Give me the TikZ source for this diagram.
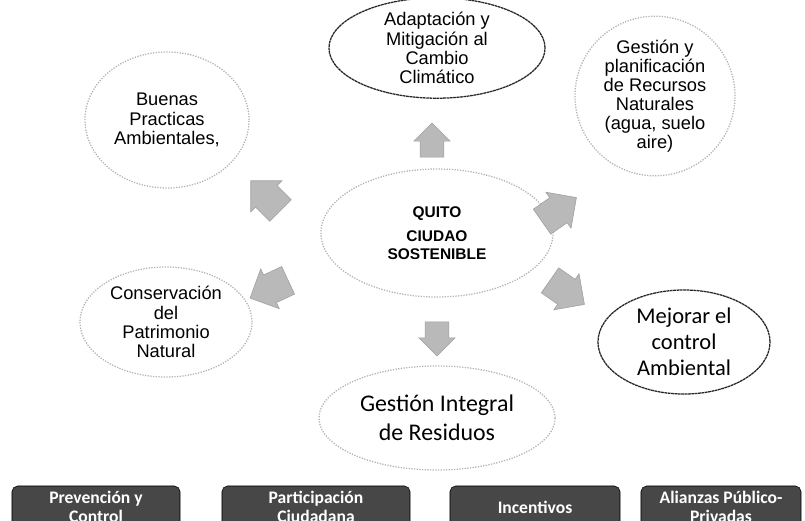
\documentclass[tikz,border=0pt]{standalone}
\usepackage{fontspec}
\setmainfont{Liberation Sans}
\newfontfamily\calibri{Carlito}
\usetikzlibrary{shapes.geometric,shapes.arrows}

\tikzset{
  bubble/.style={ellipse, draw=gray!60, densely dotted, line width=0.9pt,
    align=center, inner sep=0pt, font=\fontsize{13}{13.6}\selectfont},
  darkbubble/.style={bubble, draw=black!85, dash pattern=on 2pt off 0.4pt},
  blockarrow/.style={single arrow, fill=gray!55, draw=gray!75,
    single arrow head extend=0.15cm, minimum height=0.85cm,
    minimum width=0.9cm, inner xsep=0pt, inner ysep=0.28cm},
  bigarrow/.style={blockarrow, minimum height=1.05cm, minimum width=1.1cm,
    inner ysep=0.33cm},
  tagbox/.style={rounded corners=4pt, fill=black!72, draw=black, text=white,
    align=center, minimum height=1.05cm, inner sep=0pt,
    font=\calibri\bfseries\fontsize{12.5}{13.5}\selectfont}
}

\begin{document}
\begin{tikzpicture}[x=0.025cm,y=-0.025cm]
\clip (0,0) rectangle (805,521);

% centre
\node[bubble, minimum width=5.8cm, minimum height=3.2cm,
  font=\bfseries\fontsize{11}{12.2}\selectfont] (quito) at (437,233)
  {QUITO\\[5pt]CIUDAO\\SOSTENIBLE};

% themes around
\node[darkbubble, minimum width=5.4cm, minimum height=2.5cm] (adapta) at (437,48)
  {Adaptación y\\Mitigación al\\Cambio\\Climático};
\node[bubble, minimum width=4.1cm, minimum height=3.4cm] (buenas) at (167,120)
  {Buenas\\Practicas\\Ambientales,};
\node[bubble, minimum width=4.0cm, minimum height=3.4cm] (recursos) at (655,96)
  {Gestión y\\planificación\\de Recursos\\Naturales\\(agua, suelo\\aire)};
\node[bubble, minimum width=4.3cm, minimum height=2.75cm] (patrimonio) at (166,322)
  {Conservación\\del\\Patrimonio\\Natural};
\node[darkbubble, minimum width=4.3cm, minimum height=2.6cm,
  font=\calibri\fontsize{16}{18.5}\selectfont] (control) at (684,342)
  {Mejorar el\\control\\Ambiental};
\node[bubble, minimum width=5.9cm, minimum height=2.6cm,
  font=\calibri\fontsize{17}{20.5}\selectfont] (residuos) at (437,418)
  {Gestión Integral\\de Residuos};

% arrows out of the centre
\node[blockarrow, rotate=90] (flechaN) at (432,146) {};
\node[bigarrow, rotate=135] (flechaNO) at (271,201) {};
\node[bigarrow, rotate=205] (flechaSO) at (276,286) {};
\node[bigarrow, rotate=35] (flechaNE) at (553,214) {};
\node[bigarrow, rotate=-35] (flechaSE) at (561,288) {};
\node[blockarrow, rotate=-90] (flechaS) at (437,333) {};

% strategies
\node[tagbox, minimum width=4.2cm] (prevencion) at (96,507)
  {Prevención y\\Control};
\node[tagbox, minimum width=4.7cm] (participacion) at (316,507)
  {Participación\\Ciudadana};
\node[tagbox, minimum width=4.25cm] (incentivos) at (535,507)
  {Incentivos};
\node[tagbox, minimum width=4.0cm] (alianzas) at (721,507)
  {Alianzas Público-\\Privadas};
\end{tikzpicture}
\end{document}
